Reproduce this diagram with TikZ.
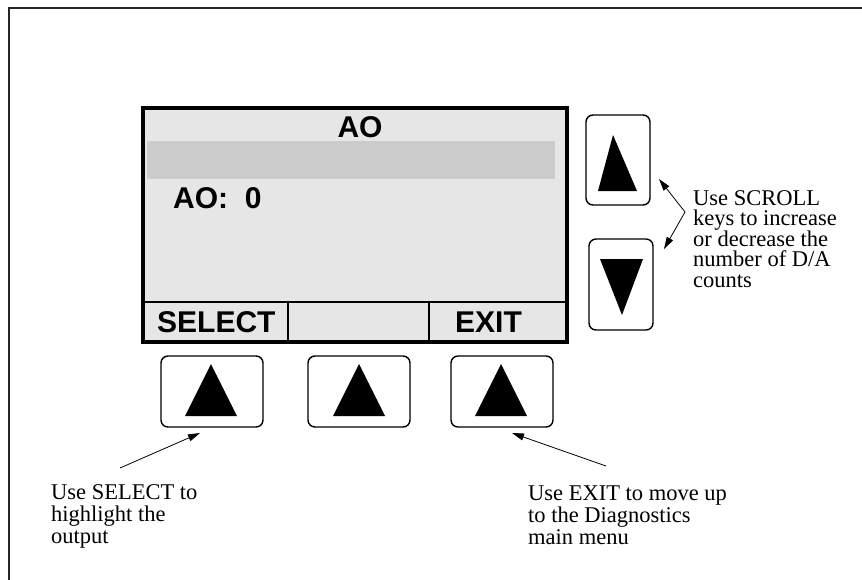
\documentclass[tikz,border=0pt]{standalone}
\usepackage{fontspec}
\setmainfont{Liberation Serif}
\newfontfamily\lcdfont{Liberation Sans}
\usetikzlibrary{arrows.meta}
\definecolor{lcdbg}{HTML}{E6E6E6}
\definecolor{lcdbar}{HTML}{CBCBCB}
\tikzset{
  lcdframe/.style={draw=black, line width=3pt, fill=lcdbg},
  lcdline/.style={draw=black, line width=2.4pt},
  lcdtext/.style={font={\lcdfont\bfseries\fontsize{30}{30}\selectfont}, inner sep=0pt},
  keybox/.style={draw=black, line width=1.4pt, rounded corners=7pt, fill=white, inner sep=0pt},
  keyarrow/.style={fill=black},
  note/.style={font={\fontsize{22.5}{22}\selectfont}, align=left, inner sep=0pt, anchor=base west},
  pointer/.style={draw=black, line width=0.8pt, -{Triangle[length=12pt,width=7pt]}},
}
\begin{document}
\begin{tikzpicture}[x=1pt,y=-1pt]
  \useasboundingbox (0,0) rectangle (862,579);
  \clip (0,0) rectangle (862,579);

  % outer panel frame (continues past the right and bottom edges)
  \draw[line width=2pt, black!85] (9,600) -- (9,8) -- (880,8);

  % LCD screen
  \node[lcdframe, minimum width=423pt, minimum height=233pt, anchor=north west] (lcd) at (142,107) {};
  \fill[lcdbar] (147,141) rectangle (555,179);
  \node[lcdtext, anchor=base] (title) at (360,137) {AO};
  \node[lcdtext, anchor=base west] (value) at (173,208) {AO:~~0};
  \draw[lcdline] (142,302) -- (565,302);
  \draw[lcdline] (288,302) -- (288,340);
  \draw[lcdline] (429,302) -- (429,340);
  \node[lcdtext, anchor=base west] (soft1) at (157,332) {SELECT};
  \node[lcdtext, anchor=base west] (soft3) at (455,332) {EXIT};
  \draw[lcdline] (lcd.north west) rectangle (lcd.south east);

  % soft keys under the screen
  \node[keybox, minimum width=102pt, minimum height=71pt] (k1) at (212,391.5) {};
  \node[keybox, minimum width=102pt, minimum height=71pt] (k2) at (359,391.5) {};
  \node[keybox, minimum width=102pt, minimum height=71pt] (k3) at (502,391.5) {};
  \fill[keyarrow] (211,364) -- (237,416) -- (185,416) -- cycle;
  \fill[keyarrow] (359,364) -- (385,416) -- (333,416) -- cycle;
  \fill[keyarrow] (501,364) -- (527,416) -- (475,416) -- cycle;

  % scroll keys
  \node[keybox, minimum width=64pt, minimum height=90pt] (up) at (618,160) {};
  \node[keybox, minimum width=64pt, minimum height=91pt] (down) at (621,284.5) {};
  \fill[keyarrow] (613,135) -- (637,191) -- (598,191) -- cycle;
  \fill[keyarrow] (600,259) -- (643,259) -- (622,315) -- cycle;

  % notes (anchored on the baseline of their last line)
  \node[note, font={\fontsize{22.5}{20.5}\selectfont}] (scrollnote) at (693,287)
    {Use SCROLL\\keys to increase\\or decrease the\\number of D/A\\counts};
  \node[note] (selnote) at (51,543) {Use SELECT to\\highlight the\\output};
  \node[note] (exitnote) at (528,544) {Use EXIT to move up\\to the Diagnostics\\main menu};

  % pointers
  \coordinate (scrollv) at (685,212);
  \coordinate (uptip) at (659,179);
  \coordinate (downtip) at (664,249);
  \draw[pointer] (scrollv) -- (uptip);
  \draw[pointer] (scrollv) -- (downtip);
  \coordinate (seltail) at (120,468);
  \coordinate (seltip) at (200,433);
  \draw[pointer] (seltail) -- (seltip);
  \coordinate (exittail) at (606,466);
  \coordinate (exittip) at (512,433);
  \draw[pointer] (exittail) -- (exittip);
\end{tikzpicture}
\end{document}
